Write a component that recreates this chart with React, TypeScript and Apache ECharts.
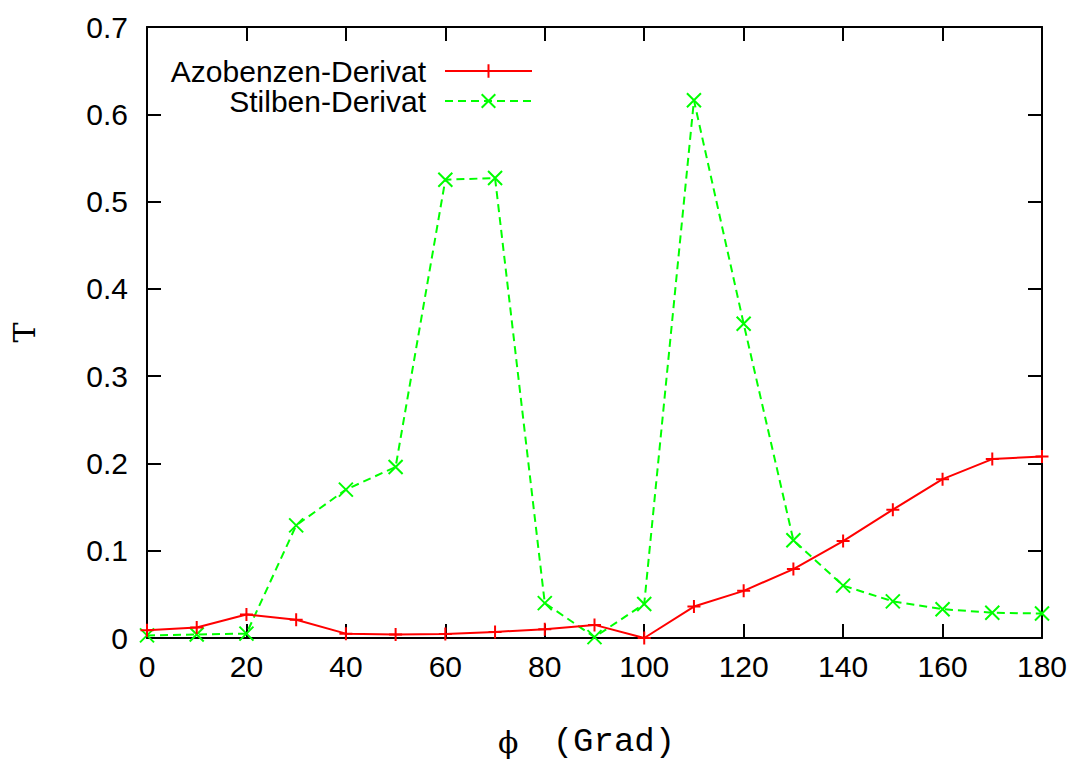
import React, { useEffect, useRef } from "react";
import * as echarts from "echarts";

const angles = [0, 10, 20, 30, 40, 50, 60, 70, 80, 90, 100, 110, 120, 130, 140, 150, 160, 170, 180];
const azobenzen = [0.009, 0.012, 0.027, 0.021, 0.005, 0.004, 0.0045, 0.007, 0.010, 0.015, 0.0, 0.036, 0.054, 0.079, 0.111, 0.147, 0.182, 0.205, 0.208];
const stilben = [0.003, 0.004, 0.005, 0.129, 0.170, 0.196, 0.525, 0.527, 0.040, 0.001, 0.039, 0.616, 0.360, 0.112, 0.060, 0.042, 0.033, 0.029, 0.028];
const seriesNames = ["Azobenzen-Derivat", "Stilben-Derivat"];
const xTitle = { phi: "ϕ", unit: " (Grad)" };
const yTitle = "Τ";

const PLUS = "path://M5,0 L5,10 M0,5 L10,5";
const CROSS = "path://M0,0 L10,10 M0,10 L10,0";

export default function App() {
  const ref = useRef<HTMLDivElement>(null);
  useEffect(() => {
    if (!ref.current) return;
    const chart = echarts.init(ref.current, undefined, { renderer: "svg" });
    const axisLine = { show: true, onZero: false, lineStyle: { color: "#000", width: 2 } };
    const tick = { show: true, inside: true, length: 14, lineStyle: { color: "#000", width: 2 } };
    const labelFont = { fontFamily: "Liberation Sans, Arial, sans-serif", fontSize: 30, color: "#000" };
    const legendCommon = {
      orient: "vertical",
      align: "right",
      right: 539,
      itemWidth: 87,
      itemHeight: 17,
      textStyle: { ...labelFont, padding: [0, 14, 0, 0] },
      padding: 0,
    };
    chart.setOption({
      animation: false,
      backgroundColor: "#fff",
      grid: { left: 147, right: 30, top: 27, bottom: 126, containLabel: false, outerBoundsMode: "none" },
      legend: [
        { ...legendCommon, data: [seriesNames[0]], top: 56 },
        { ...legendCommon, data: [seriesNames[1]], top: 86 },
      ],
      xAxis: [
        {
          type: "value",
          position: "bottom",
          min: 0,
          max: 180,
          interval: 20,
          axisLine,
          axisTick: tick,
          splitLine: { show: false },
          axisLabel: { ...labelFont, margin: 13 },
          name: `{p|${xTitle.phi}}{m|${xTitle.unit}}`,
          nameLocation: "middle",
          nameGap: 89,
          nameTextStyle: {
            lineHeight: 30,
            rich: {
              p: { fontFamily: "DejaVu Serif, serif", fontSize: 30, lineHeight: 30, color: "#000", padding: [0, 14, 0, 0] },
              m: { fontFamily: "Liberation Mono, Courier New, monospace", fontSize: 34, lineHeight: 30, color: "#000", padding: [0, 16, 0, 0] },
            },
          },
        },
        {
          type: "value",
          position: "top",
          min: 0,
          max: 180,
          interval: 20,
          axisLine,
          axisTick: tick,
          splitLine: { show: false },
          axisLabel: { show: false },
        },
      ],
      yAxis: [
        {
          type: "value",
          position: "left",
          min: 0,
          max: 0.7,
          interval: 0.1,
          axisLine,
          axisTick: tick,
          splitLine: { show: false },
          axisLabel: {
            ...labelFont,
            margin: 19,
            formatter: (v: number) => (Math.abs(v) < 1e-9 ? "0" : v.toFixed(1)),
          },
          name: yTitle,
          nameLocation: "middle",
          nameRotate: 90,
          nameGap: 108,
          nameTextStyle: { fontFamily: "DejaVu Serif, serif", fontSize: 30, color: "#000" },
        },
        {
          type: "value",
          position: "right",
          min: 0,
          max: 0.7,
          interval: 0.1,
          axisLine,
          axisTick: tick,
          splitLine: { show: false },
          axisLabel: { show: false },
        },
      ],
      series: [
        {
          name: seriesNames[0],
          type: "line",
          data: angles.map((a, i) => [a, azobenzen[i]]),
          symbol: PLUS,
          symbolSize: 13,
          showAllSymbol: true,
          lineStyle: { color: "#ff0000", width: 2 },
          itemStyle: { color: "#ff0000", borderColor: "#ff0000", borderWidth: 2 },
          emphasis: { disabled: true },
          z: 3,
        },
        {
          name: seriesNames[1],
          type: "line",
          data: angles.map((a, i) => [a, stilben[i]]),
          symbol: CROSS,
          symbolSize: 14,
          showAllSymbol: true,
          lineStyle: { color: "#00ff00", width: 2, type: [8, 5] },
          itemStyle: { color: "#00ff00", borderColor: "#00ff00", borderWidth: 2 },
          emphasis: { disabled: true },
          z: 2,
        },
      ],
    });
    return () => chart.dispose();
  }, []);
  return (
    <div style={{ position: "absolute", left: 0, top: 0 }}>
      <div ref={ref} style={{ width: 1072, height: 764 }} />
    </div>
  );
}
